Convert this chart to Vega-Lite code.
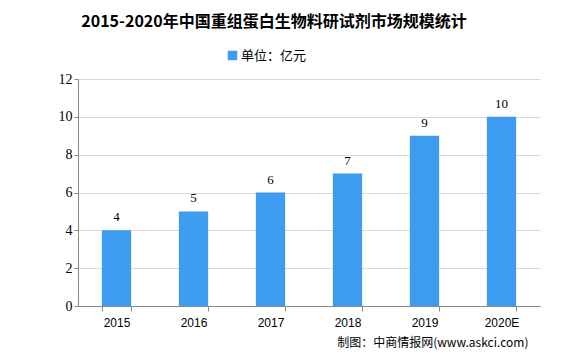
{
  "$schema": "https://vega.github.io/schema/vega-lite/v6.json",
  "width": 462,
  "height": 227,
  "autosize": {"type": "none"},
  "padding": {"left": 78, "top": 79, "right": 29, "bottom": 48},
  "background": "white",
  "title": {
    "text": "2015-2020年中国重组蛋白生物料研试剂市场规模统计",
    "font": "Noto Sans CJK SC",
    "fontSize": 16,
    "fontWeight": "bold",
    "color": "#000000",
    "anchor": "middle",
    "dx": -35,
    "offset": 19
  },
  "data": {
    "values": [
      {"year": "2015", "value": 4, "series": "单位：亿元"},
      {"year": "2016", "value": 5, "series": "单位：亿元"},
      {"year": "2017", "value": 6, "series": "单位：亿元"},
      {"year": "2018", "value": 7, "series": "单位：亿元"},
      {"year": "2019", "value": 9, "series": "单位：亿元"},
      {"year": "2020E", "value": 10, "series": "单位：亿元"}
    ]
  },
  "encoding": {
    "x": {
      "field": "year",
      "type": "nominal",
      "sort": null,
      "scale": {"paddingInner": 0.62, "paddingOuter": 0.31},
      "axis": {
        "title": "制图：中商情报网(www.askci.com)",
        "titleFont": "Noto Sans CJK SC",
        "titleFontSize": 12,
        "titleFontWeight": "normal",
        "titleColor": "#000000",
        "titleAlign": "right",
        "titleAnchor": "end",
        "titleX": 450,
        "titleY": 36,
        "titleBaseline": "middle",
        "labelAngle": 0,
        "labelFont": "Liberation Sans",
        "labelFontSize": 12,
        "labelColor": "#000000",
        "labelPadding": 6,
        "domainColor": "#888888",
        "tickColor": "#888888",
        "tickSize": 5,
        "tickBand": "extent",
        "grid": false
      }
    },
    "y": {
      "field": "value",
      "type": "quantitative",
      "scale": {"domain": [0, 12]},
      "axis": {
        "title": null,
        "values": [0, 2, 4, 6, 8, 10, 12],
        "labelFont": "Liberation Serif",
        "labelFontSize": 14,
        "labelColor": "#000000",
        "labelPadding": 2,
        "domainColor": "#888888",
        "tickColor": "#888888",
        "tickSize": 4,
        "gridColor": "#d9d9d9"
      }
    }
  },
  "layer": [
    {
      "mark": {"type": "bar", "color": "#3d9cf0"},
      "encoding": {
        "color": {
          "field": "series",
          "type": "nominal",
          "scale": {"range": ["#3d9cf0"]},
          "legend": {
            "title": null,
            "orient": "none",
            "legendX": 148,
            "legendY": -30,
            "symbolType": "square",
            "symbolSize": 90,
            "symbolStrokeWidth": 0,
            "labelFont": "Noto Sans CJK SC",
            "labelFontSize": 13,
            "labelColor": "#000000",
            "labelOffset": 2
          }
        }
      }
    },
    {
      "mark": {
        "type": "text",
        "dy": -13,
        "font": "Liberation Serif",
        "fontSize": 13,
        "color": "#000000"
      },
      "encoding": {"text": {"field": "value", "type": "quantitative"}}
    }
  ],
  "config": {"view": {"stroke": null}}
}
